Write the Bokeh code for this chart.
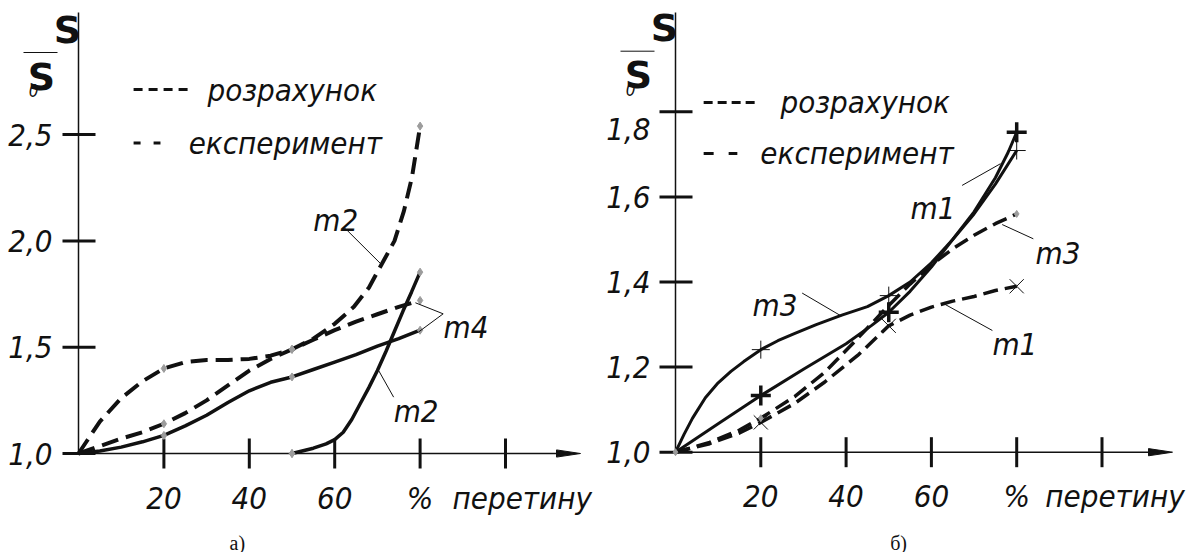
from bokeh.plotting import figure
from bokeh.layouts import row
from bokeh.models import Range1d
from bokeh.core.properties import value
from bokeh.embed import file_html
from bokeh.resources import INLINE

# ---------------- data: panel a) ----------------
a_m2_dash_x = [0, 2, 5, 10, 15, 20, 25, 30, 35, 40, 45, 50, 55, 60, 64.5, 68, 71, 74, 76.2, 78.1, 80]
a_m2_dash_y = [1.0, 1.06, 1.15, 1.26, 1.34, 1.40, 1.43, 1.44, 1.44, 1.445, 1.46, 1.49, 1.54, 1.61, 1.69, 1.78, 1.89, 2.00, 2.14, 2.30, 2.54]
a_m4_dash_x = [0, 5, 10, 15, 20, 25, 30, 35, 40, 45, 50, 55, 60, 65, 70, 75, 80]
a_m4_dash_y = [1.0, 1.035, 1.07, 1.10, 1.14, 1.19, 1.25, 1.32, 1.39, 1.445, 1.49, 1.535, 1.58, 1.62, 1.655, 1.69, 1.72]
a_m4_solid_x = [0, 5, 10, 15, 20, 25, 30, 35, 40, 45, 50, 55, 60, 65, 70, 75, 80]
a_m4_solid_y = [1.0, 1.012, 1.03, 1.055, 1.085, 1.13, 1.18, 1.24, 1.295, 1.335, 1.36, 1.395, 1.43, 1.465, 1.505, 1.54, 1.58]
a_m2_solid_x = [50, 55, 58, 60, 62, 64, 66, 68, 70, 72, 74, 76, 78, 80]
a_m2_solid_y = [1.0, 1.025, 1.045, 1.065, 1.10, 1.16, 1.235, 1.31, 1.39, 1.48, 1.575, 1.67, 1.76, 1.853]
a_yticks = [1.0, 1.5, 2.0, 2.5]
a_ytick_labels = ["1,0", "1,5", "2,0", "2,5"]

# ---------------- data: panel б) ----------------
b_m1_solid_x = [0, 10, 20, 30, 40, 46, 50, 55, 60, 65, 70, 75, 78, 80]
b_m1_solid_y = [1.0, 1.067, 1.133, 1.195, 1.255, 1.298, 1.329, 1.378, 1.435, 1.50, 1.565, 1.645, 1.705, 1.752]
b_m3_solid_x = [0, 2, 4, 7, 10, 13, 16, 20, 24, 28, 33, 39, 45, 50, 55, 60, 65, 70, 75, 80]
b_m3_solid_y = [1.0, 1.042, 1.080, 1.128, 1.163, 1.19, 1.213, 1.241, 1.262, 1.279, 1.30, 1.322, 1.342, 1.368, 1.40, 1.445, 1.50, 1.56, 1.63, 1.709]
b_m3_dash_x = [0, 8, 15, 20, 28, 35, 42, 50, 55, 60, 65, 70, 75, 80]
b_m3_dash_y = [1.0, 1.023, 1.052, 1.08, 1.131, 1.188, 1.26, 1.345, 1.395, 1.44, 1.478, 1.51, 1.537, 1.56]
b_m1_dash_x = [0, 8, 15, 20, 28, 35, 43, 50, 55, 60, 65, 70, 75, 80]
b_m1_dash_y = [1.0, 1.02, 1.045, 1.07, 1.115, 1.165, 1.23, 1.297, 1.322, 1.341, 1.355, 1.366, 1.38, 1.39]
b_yticks = [1.0, 1.2, 1.4, 1.6, 1.8]
b_ytick_labels = ["1,0", "1,2", "1,4", "1,6", "1,8"]

xticks = [20, 40, 60, 80, 100]
xtick_labels = ["20", "40", "60", "%", ""]
marker_x = [20, 50, 80]

FONT = value("DejaVu Sans Condensed")
SERIF = value("Liberation Serif")
FS = "31px"
BLACK = "#111111"
GRAY = "#9c9c9c"
H = 552


def pick(xs, ys, keys):
    d = dict(zip(xs, ys))
    return [k for k in keys if k in d], [d[k] for k in keys if k in d]


def make_panel(page_left, width, x0px, sx, y0px, sy):
    xr = Range1d((page_left - x0px) / sx, (page_left + width - x0px) / sx)
    yr = Range1d(1.0 - (H - y0px) / sy, 1.0 + y0px / sy)
    p = figure(width=width, height=H, x_range=xr, y_range=yr,
               output_backend="svg", toolbar_location=None, min_border=0,
               x_axis_location=None, y_axis_location=None)
    p.grid.visible = False
    p.outline_line_color = None
    p.background_fill_color = "white"
    p.border_fill_color = "white"
    return p


def txt(p, x, y, t, align="left", baseline="middle", size=FS, font=FONT, style="italic"):
    p.text(x=x, y=y, text=t, text_font=font, text_font_style=style, text_font_size=size,
           text_align=align, text_baseline=baseline, text_color=BLACK)


def draw_axes(p, sx, sy, ytop, xend, yticks, ylabels, ylab_y, lab_right_px, word_x):
    p.segment(x0=[0], y0=[1.0], x1=[0], y1=[ytop], line_color=BLACK, line_width=1.5)
    p.segment(x0=[0], y0=[1.0], x1=[xend - 10 / sx], y1=[1.0], line_color=BLACK, line_width=1.5)
    L, hw = 24 / sx, 3.6 / sy
    p.patch(x=[xend, xend - L, xend - L], y=[1.0, 1.0 + hw, 1.0 - hw],
            fill_color=BLACK, line_color=BLACK, line_width=1)
    p.segment(x0=[-16 / sx] * len(yticks), y0=yticks, x1=[17 / sx] * len(yticks), y1=yticks,
              line_color=BLACK, line_width=3)
    txt(p, [lab_right_px / sx] * len(yticks), ylab_y, ylabels, align="right")
    p.segment(x0=xticks, y0=[1.0 - 15 / sy] * len(xticks), x1=xticks, y1=[1.0 + 15 / sy] * len(xticks),
              line_color=BLACK, line_width=3)
    txt(p, xticks, [1.0 - 44 / sy] * len(xticks), xtick_labels, align="center")
    txt(p, [word_x], [1.0 - 44 / sy], ["перетину"])
    # y label S / S0
    txt(p, [-11 / sx], [1.0 + 424 / sy], ["S"], align="center", size="38px",
        font=value("DejaVu Sans"), style="bold")
    p.segment(x0=[-55 / sx], y0=[1.0 + 401 / sy], x1=[-21 / sx], y1=[1.0 + 401 / sy],
              line_color=BLACK, line_width=1)
    txt(p, [-37 / sx], [1.0 + 377 / sy], ["S"], align="center", size="38px",
        font=value("DejaVu Sans"), style="bold")
    txt(p, [-45 / sx], [1.0 + 363 / sy], ["0"], align="center", size="17px")


def legend(p, y1, y2, x_dash0, x_dash1, x_dash2, x_text1, x_text2, dash1, dash2):
    p.line(x=[x_dash0, x_dash1], y=[y1, y1], line_color=BLACK, line_width=3, line_dash=dash1)
    p.line(x=[x_dash0, x_dash2], y=[y2, y2], line_color=BLACK, line_width=3, line_dash=dash2)
    txt(p, [x_text1], [y1], ["розрахунок"])
    txt(p, [x_text2], [y2], ["експеримент"])


def mlabel(p, x, y, t, lx0, ly0, lx1, ly1):
    txt(p, [x], [y], [t], baseline="alphabetic")
    p.segment(x0=[lx0], y0=[ly0], x1=[lx1], y1=[ly1], line_color=BLACK, line_width=1)


# ================= panel a =================
AX0, AXS, AY0, AYS = 78, 4.27, 453, 212.6
pa = make_panel(0, 596, AX0, AXS, AY0, AYS)
draw_axes(pa, AXS, AYS, 1.0 + (AY0 - 12) / AYS, (580 - AX0) / AXS,
          a_yticks, a_ytick_labels, a_yticks, -26, 87.6)

pa.line(a_m2_dash_x, a_m2_dash_y, line_color=BLACK, line_width=4, line_dash="17 8")
pa.line(a_m4_dash_x, a_m4_dash_y, line_color=BLACK, line_width=4, line_dash="17 8")
pa.line(a_m4_solid_x, a_m4_solid_y, line_color=BLACK, line_width=3.5)
pa.line(a_m2_solid_x, a_m2_solid_y, line_color=BLACK, line_width=3.5)
for xs, ys in [(a_m2_dash_x, a_m2_dash_y), (a_m4_dash_x, a_m4_dash_y),
               (a_m4_solid_x, a_m4_solid_y), (a_m2_solid_x, a_m2_solid_y)]:
    mx, my = pick(xs, ys, marker_x)
    pa.scatter(mx, my, marker="diamond", size=8, fill_color=GRAY, line_color=GRAY)
pa.scatter([a_m2_solid_x[0]], [a_m2_solid_y[0]], marker="diamond", size=8, fill_color=GRAY, line_color=GRAY)

legend(pa, 2.712, 2.46, 12.9, 26.2, 19.2, 30.2, 25.8, "9 6", "7 13")
mlabel(pa, 55.0, 2.096, "m2", 62.5, 2.058, 70.7, 1.894)
mlabel(pa, 85.5, 1.593, "m4", 85.4, 1.657, 78.9, 1.709)
pa.segment(x0=[85.4], y0=[1.657], x1=[79.6], y1=[1.571], line_color=BLACK, line_width=1)
mlabel(pa, 73.8, 1.202, "m2", 73.8, 1.265, 70.3, 1.39)
txt(pa, [37.2], [1.0 - (542 - AY0) / AYS], ["а)"], align="center", baseline="alphabetic",
    size="20px", font=SERIF, style="normal")

# ================= panel b =================
BX0, BXS, BY0, BYS = 675, 4.265, 451.7, 425.5
pb = make_panel(596, 590, BX0, BXS, BY0, BYS)
b_lab_y = [1.0, 1.2, 1.4, 1.6, 1.76]
draw_axes(pb, BXS, BYS, 1.0 + (BY0 - 12) / BYS, (1172 - BX0) / BXS,
          b_yticks, b_ytick_labels, b_lab_y, -25, 86.7)

pb.line(b_m3_dash_x, b_m3_dash_y, line_color=BLACK, line_width=3.5, line_dash="15 7")
pb.line(b_m1_dash_x, b_m1_dash_y, line_color=BLACK, line_width=3.5, line_dash="15 7")
pb.line(b_m3_solid_x, b_m3_solid_y, line_color=BLACK, line_width=3)
pb.line(b_m1_solid_x, b_m1_solid_y, line_color=BLACK, line_width=3)
mx, my = pick(b_m3_solid_x, b_m3_solid_y, marker_x)
pb.scatter(mx, my, marker="cross", size=18, line_color=BLACK, line_width=1)
mx, my = pick(b_m1_solid_x, b_m1_solid_y, marker_x)
pb.scatter(mx, my, marker="cross", size=20, line_color=BLACK, line_width=3.5)
mx, my = pick(b_m1_dash_x, b_m1_dash_y, marker_x)
pb.scatter(mx, my, marker="x", size=20, line_color=BLACK, line_width=1)
mx, my = pick(b_m3_dash_x, b_m3_dash_y, [20, 80])
pb.scatter(mx, my, marker="diamond", size=7, fill_color=GRAY, line_color=GRAY)
pb.scatter([0], [1.0], marker="diamond", size=7, fill_color=GRAY, line_color=GRAY)

legend(pb, 1.822, 1.702, 6.6, 19.5, 14.5, 24.6, 19.9, "9 5", "10 15")
mlabel(pb, 55.1, 1.575, "m1", 67.2, 1.627, 76.2, 1.678)
mlabel(pb, 84.4, 1.467, "m3", 83.9, 1.5015, 76.6, 1.535)
mlabel(pb, 18.05, 1.345, "m3", 29.7, 1.374, 38.7, 1.321)
mlabel(pb, 74.3, 1.255, "m1", 74.3, 1.286, 62.9, 1.349)
txt(pb, [52.3], [1.0 - (542 - BY0) / BYS], ["б)"], align="center", baseline="alphabetic",
    size="20px", font=SERIF, style="normal")

layout = row(pa, pb, spacing=0)
open("out.html", "w").write(file_html(layout, INLINE))
